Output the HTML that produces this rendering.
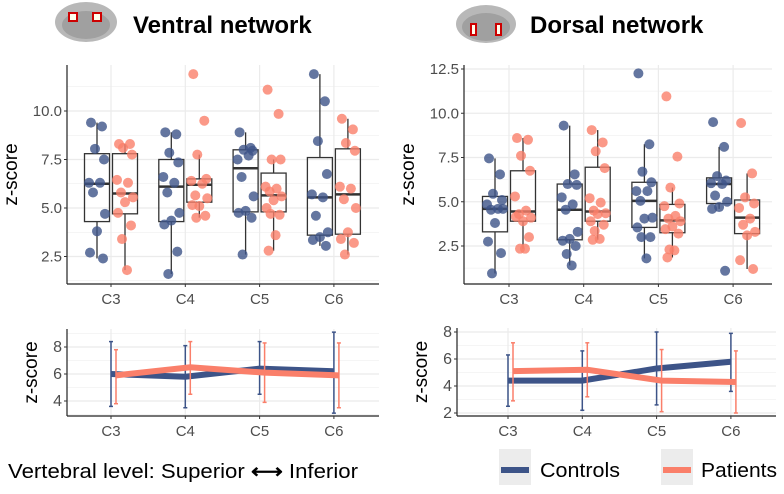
<!DOCTYPE html>
<html><head><meta charset="utf-8"><style>
body{margin:0;background:#fff;font-family:"Liberation Sans",sans-serif}
svg text{font-family:"Liberation Sans",sans-serif}
</style></head><body>
<svg id="chart" width="784" height="489" viewBox="0 0 784 489">
  <g>
    <ellipse cx="86" cy="22" rx="31" ry="20" fill="#b8b8b8"/>
    <ellipse cx="86" cy="25" rx="24" ry="14" fill="#a0a0a0"/>
    <rect x="68" y="12" width="10" height="10" fill="#c00"/><rect x="70" y="14" width="6" height="6" fill="#ffe"/>
    <rect x="92" y="12" width="10" height="10" fill="#c00"/><rect x="94" y="14" width="6" height="6" fill="#ffe"/>
  </g>
  <text x="133" y="33" font-size="24" font-weight="bold">Ventral network</text>
  <g>
    <ellipse cx="486" cy="24" rx="30" ry="19" fill="#b8b8b8"/>
    <ellipse cx="486" cy="27" rx="24" ry="14" fill="#a0a0a0"/>
    <rect x="470" y="23" width="7" height="13" fill="#c00"/><rect x="472" y="25" width="3" height="9" fill="#ffe"/>
    <rect x="495" y="23" width="7" height="13" fill="#c00"/><rect x="497" y="25" width="3" height="9" fill="#ffe"/>
  </g>
  <text x="530" y="33" font-size="24" font-weight="bold">Dorsal network</text>

  <text x="8" y="478" font-size="20" textLength="350" lengthAdjust="spacingAndGlyphs">Vertebral level: Superior <tspan font-weight="bold">⟷</tspan> Inferior</text>
  <g>
    <rect x="499" y="449" width="32" height="36" fill="#ececec"/>
    <line x1="501" y1="470" x2="529" y2="470" stroke="#3d5488" stroke-width="6"/>
    <text x="540" y="477" font-size="20" textLength="80" lengthAdjust="spacingAndGlyphs">Controls</text>
    <rect x="661" y="449" width="32" height="36" fill="#ececec"/>
    <line x1="663" y1="470" x2="691" y2="470" stroke="#fa7f6a" stroke-width="6"/>
    <text x="701" y="477" font-size="20" textLength="76" lengthAdjust="spacingAndGlyphs">Patients</text>
  </g>
</svg>
<script>
const categories = ["C3","C4","C5","C6"];
// Ventral points
const ventralControls = [
 [9.4,9.2,8.05,7.5,6.3,6.3,5.8,4.7,3.8,2.7,2.4],
 [8.9,8.8,7.85,7.35,6.6,6.3,5.8,4.75,4.35,4.15,2.75,1.6],
 [8.9,8.1,8.0,7.95,7.5,7.7,6.6,5.6,4.85,4.75,4.5,2.6],
 [11.9,10.5,8.45,6.75,5.7,5.55,4.6,3.75,3.5,3.35,3.05]];
const ventralPatients = [
 [8.3,8.3,8.1,7.75,6.45,6.3,5.8,5.55,5.3,4.75,4.1,3.4,1.8],
 [11.9,9.5,7.75,6.5,6.4,6.25,5.65,5.5,5.1,5.15,4.6,4.5],
 [11.1,9.85,7.5,7.5,6.1,6.0,5.85,5.6,5.4,5.0,4.65,4.7,3.6,2.8],
 [9.6,9.05,8.35,7.95,6.1,6.0,5.45,5.0,3.75,3.4,3.2,2.6]];
const ventralControlsBox = [[4.3,6.25,7.8],[4.3,6.1,7.5],[4.8,7.05,8.0],[3.6,5.55,7.6]];
const ventralPatientsBox = [[4.7,5.75,7.8],[5.3,6.2,6.5],[4.8,5.65,6.8],[3.65,5.7,8.05]];
// Dorsal points
const dorsalControls = [
 [7.45,6.55,5.45,5.1,4.85,4.6,4.55,4.6,3.8,2.75,2.1,0.95],
 [9.3,6.55,6.0,5.95,5.25,4.85,4.55,3.3,2.9,2.8,2.5,2.05,1.4],
 [12.25,8.25,6.7,6.1,5.6,5.6,5.05,4.1,4.05,3.55,3.0,3.0,1.8],
 [9.5,8.1,6.45,6.2,6.05,6.0,5.35,5.0,4.7,4.6,1.1]];
const dorsalPatients = [
 [8.6,8.5,7.6,6.75,5.3,4.5,4.3,4.1,3.9,4.15,3.0,2.35,2.35],
 [9.05,8.35,7.85,6.9,5.2,4.95,4.5,4.35,4.3,3.9,3.7,3.35,2.9,2.85],
 [10.95,7.55,5.8,4.9,4.75,4.2,4.05,3.9,3.6,3.45,3.2,2.3,2.25,1.85],
 [9.45,6.6,5.25,4.9,4.65,4.05,3.7,3.3,3.1,1.7,1.2]];
const dorsalControlsBox = [[3.3,4.6,5.3],[2.85,4.55,6.0],[3.55,5.05,6.1],[4.9,6.0,6.35]];
const dorsalPatientsBox = [[3.9,4.45,6.75],[3.9,4.45,6.95],[3.25,3.95,4.85],[3.2,4.1,5.1]];
// Mean +/- SD
const ventralMeanControls = [6.0,5.8,6.4,6.2];
const ventralLowControls = [3.6,3.5,4.5,3.1];
const ventralHighControls = [8.4,8.1,8.4,9.1];
const ventralMeanPatients = [5.9,6.5,6.1,5.9];
const ventralLowPatients = [3.8,4.5,3.9,3.5];
const ventralHighPatients = [7.8,8.4,8.3,8.3];
const dorsalMeanControls = [4.4,4.4,5.3,5.8];
const dorsalLowControls = [2.5,2.2,2.6,3.6];
const dorsalHighControls = [6.3,6.6,8.0,7.9];
const dorsalMeanPatients = [5.1,5.2,4.4,4.3];
const dorsalLowPatients = [2.9,3.2,2.1,2.0];
const dorsalHighPatients = [7.2,7.2,6.7,6.6];
const ventralTicks = [2.5,5.0,7.5,10.0];
const dorsalTicks = [2.5,5.0,7.5,10.0,12.5];
const lineTicksV = [4,6,8];
const lineTicksD = [2,4,6,8];

const svg = document.getElementById('chart');
const NS = 'http://www.w3.org/2000/svg';
function mk(tag, attrs, parent){const e=document.createElementNS(NS,tag);for(const k in attrs)e.setAttribute(k,attrs[k]);(parent||svg).appendChild(e);return e;}
const CB='#3d5488', CP='#fa7f6a';
const jitter=[-6,5,-2,7,-8,3,-4,8,0,-7,6,-3,2,-5];

function panel(p){
  const g=mk('g',{});
  
  
  const y=v=>p.y0+(v-p.v0)*(p.y1-p.y0)/(p.v1-p.v0);
  const x=i=>p.cx0+i*p.step;
  const minor=[];
  for(let i=0;i<p.ticks.length;i++){minor.push(p.ticks[i]); if(i<p.ticks.length-1) minor.push((p.ticks[i]+p.ticks[i+1])/2);}
  minor.unshift(p.ticks[0]-(p.ticks[1]-p.ticks[0])/2); minor.push(p.ticks[p.ticks.length-1]+(p.ticks[1]-p.ticks[0])/2);
  minor.forEach((v,k)=>{const yy=y(v); if(yy<p.top||yy>p.bottom)return;
    const major=p.ticks.includes(v);
    mk('line',{x1:p.left,x2:p.right,y1:yy,y2:yy,stroke:'#ebebeb','stroke-width':major?1.2:0.6},g);});
  categories.forEach((c,i)=>mk('line',{x1:x(i),x2:x(i),y1:p.top,y2:p.bottom,stroke:'#ebebeb','stroke-width':1.2},g));
  mk('line',{x1:p.left,x2:p.left,y1:p.top,y2:p.bottom,stroke:'#222','stroke-width':1.2},g);
  mk('line',{x1:p.left,x2:p.right,y1:p.bottom,y2:p.bottom,stroke:'#222','stroke-width':1.2},g);
  p.ticks.forEach(v=>{const yy=y(v);
    mk('line',{x1:p.left-3,x2:p.left,y1:yy,y2:yy,stroke:'#333'},g);
    const t=mk('text',{x:p.left-5,y:yy+5,'font-size':p.fs,'text-anchor':'end',fill:'#4d4d4d'},g);
    
    
    t.textContent=p.fmt(v);});
  categories.forEach((c,i)=>{
    mk('line',{x1:x(i),x2:x(i),y1:p.bottom,y2:p.bottom+3,stroke:'#333'},g);
    const t=mk('text',{x:x(i),y:p.bottom+20,'font-size':15,'text-anchor':'middle',fill:'#4d4d4d'},g);
    
    
    t.textContent=c;});
  const yl=mk('text',{x:0,y:0,'font-size':19,'text-anchor':'middle',transform:`translate(${p.left-p.ylOff},${(p.top+p.bottom)/2}) rotate(-90)`},g);
  
  
  yl.textContent='z-score';
  return {g,x,y};
}

function boxPanel(p, ctrl, pat, cbox, pbox){
  const {g,x,y}=panel(p);
  [[ctrl,cbox,-14,CB,'controls'],[pat,pbox,14,CP,'patients']].forEach(([pts,box,off,col,nm])=>{
    categories.forEach((c,i)=>{
      const cx=x(i)+off, [q1,md,q3]=box[i], iqr=q3-q1;
      const inside=pts[i].filter(v=>v>=q1-1.5*iqr&&v<=q3+1.5*iqr);
      const lo=Math.min(...inside), hi=Math.max(...inside);
      const bg=mk('g',{},g);
      
      
      mk('line',{x1:cx,x2:cx,y1:y(hi),y2:y(q3),stroke:'#333','stroke-width':1.3},bg);
      mk('line',{x1:cx,x2:cx,y1:y(q1),y2:y(lo),stroke:'#333','stroke-width':1.3},bg);
      mk('rect',{x:cx-12.5,y:y(q3),width:25,height:y(q1)-y(q3),fill:'none',stroke:'#333','stroke-width':1.3},bg);
      mk('line',{x1:cx-12.5,x2:cx+12.5,y1:y(md),y2:y(md),stroke:'#333','stroke-width':2.5},bg);
      pts[i].forEach((v,k)=>{
        const d=mk('circle',{cx:cx+jitter[k%jitter.length],cy:y(v),r:5,fill:col,'fill-opacity':0.8},g);
        
        
      });
    });
  });
}

function linePanel(p, mc, lc, hc, mp, lp, hp){
  const {g,x,y}=panel(p);
  [[mc,lc,hc,0,CB,'controls'],[mp,lp,hp,5,CP,'patients']].forEach(([m,l,h,off,col,nm])=>{
    const pl=mk('polyline',{points:m.map((v,i)=>(x(i)+off)+','+y(v)).join(' '),fill:'none',stroke:col,'stroke-width':6},g);
    
    
    m.forEach((v,i)=>{
      const cx=x(i)+off;
      const e=mk('g',{},g);
      
      
      mk('line',{x1:cx,x2:cx,y1:y(h[i]),y2:y(l[i]),stroke:col,'stroke-width':1.5},e);
      mk('line',{x1:cx-2,x2:cx+2,y1:y(h[i]),y2:y(h[i]),stroke:col,'stroke-width':1.5},e);
      mk('line',{x1:cx-2,x2:cx+2,y1:y(l[i]),y2:y(l[i]),stroke:col,'stroke-width':1.5},e);
    });
  });
}

boxPanel({name:'ventral-boxplot',left:67,right:379,top:65,bottom:284,y0:111,v0:10,y1:208,v1:5,cx0:111,step:74.3,ticks:ventralTicks,fs:15,fmt:v=>v.toFixed(1),ylOff:50},
  ventralControls,ventralPatients,ventralControlsBox,ventralPatientsBox);
boxPanel({name:'dorsal-boxplot',left:464,right:772,top:65,bottom:284,y0:69,v0:12.5,y1:246,v1:2.5,cx0:509,step:74.7,ticks:dorsalTicks,fs:15,fmt:v=>v.toFixed(1),ylOff:50},
  dorsalControls,dorsalPatients,dorsalControlsBox,dorsalPatientsBox);
linePanel({name:'ventral-mean-plot',left:67,right:379,top:329,bottom:416,y0:347,v0:8,y1:401,v1:4,cx0:111,step:74.3,ticks:lineTicksV,fs:16,fmt:v=>String(v),ylOff:30},
  ventralMeanControls,ventralLowControls,ventralHighControls,ventralMeanPatients,ventralLowPatients,ventralHighPatients);
linePanel({name:'dorsal-mean-plot',left:457,right:776,top:328,bottom:416,y0:332,v0:8,y1:413,v1:2,cx0:508,step:74.3,ticks:lineTicksD,fs:16,fmt:v=>String(v),ylOff:30},
  dorsalMeanControls,dorsalLowControls,dorsalHighControls,dorsalMeanPatients,dorsalLowPatients,dorsalHighPatients);
</script>
</body></html>
